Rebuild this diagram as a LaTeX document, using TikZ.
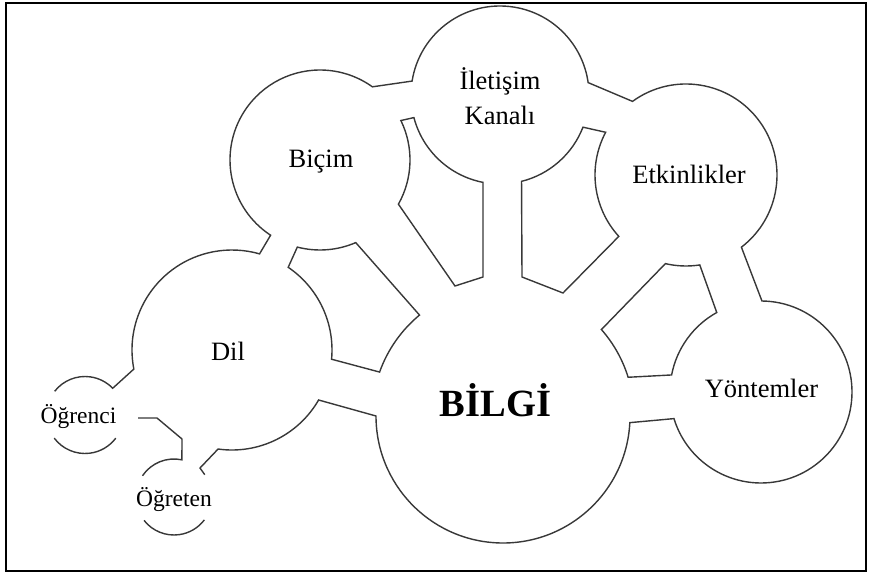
\documentclass[tikz,border=0pt]{standalone}
\usepackage{fontspec}
\setmainfont{Liberation Serif}
\usetikzlibrary{calc}
\begin{document}
\begin{tikzpicture}[x=1pt,y=-1pt,
  outline/.style={draw=black!78, line width=1.4pt, line join=miter},
  txt/.style={font=\fontsize{26.5}{30}\selectfont, anchor=base, inner sep=0pt},
  smalltxt/.style={font=\fontsize{23.5}{27}\selectfont, anchor=base, inner sep=0pt},
  bigtxt/.style={font=\fontsize{38.5}{42}\selectfont\bfseries, anchor=base, inner sep=0pt}]
\useasboundingbox (0,0) rectangle (872,577);
\draw[line width=1.2pt] (6,3) rectangle (866,571);

% circle centres
\coordinate (cB) at (320,160);  % Biçim
\coordinate (cI) at (500,95);   % İletişim Kanalı
\coordinate (cE) at (686,175);  % Etkinlikler
\coordinate (cY) at (761,392);  % Yöntemler
\coordinate (cG) at (503,416);  % BİLGİ
\coordinate (cD) at (232,350);  % Dil
\coordinate (cO) at (85,415);   % Öğrenci
\coordinate (cT) at (174,497);  % Öğreten

% outer contour
\draw[outline]
  ($(cO)+(-142:38.5)$) arc[start angle=-142,end angle=-44,radius=38.5]
  -- ($(cD)+(-191:100)$) arc[start angle=-191,end angle=-74,radius=100]
  -- ($(cB)+(-236.7:90)$) arc[start angle=-236.7,end angle=-54.4,radius=90]
  -- ($(cI)+(-171:89)$) arc[start angle=-171,end angle=-8,radius=89]
  -- ($(cE)+(-126:91)$) arc[start angle=-126,end angle=52.5,radius=91]
  -- ($(cY)+(-89.4:91)$) arc[start angle=-89.4,end angle=163,radius=91]
  -- ($(cG)+(3:127)$) arc[start angle=3,end angle=180,radius=127]
  -- ($(cD)+(30:100)$) arc[start angle=30,end angle=98,radius=100]
  -- (200,468) -- ($(cT)+(-36:38)$);

% lower arc of Öğrenci
\draw[outline] ($(cO)+(143:38.5)$) arc[start angle=143,end angle=37,radius=38.5];
% link between Öğrenci and Öğreten
\draw[outline] (138,418) -- (157,418) -- (182,439)
  -- ($(cT)+(-78:38)$) arc[start angle=-78,end angle=-146,radius=38];
% lower arc of Öğreten
\draw[outline] ($(cT)+(142:38)$) arc[start angle=142,end angle=37,radius=38];

% inner cut-outs
\draw[outline]
  ($(cB)+(104.6:90)$) arc[start angle=104.6,end angle=66.6,radius=90]
  -- ($(cG)+(-129.6:131)$) arc[start angle=-129.6,end angle=-160.4,radius=131]
  -- ($(cD)+(5.3:100)$) arc[start angle=5.3,end angle=-55.8,radius=100]
  -- cycle;
\draw[outline]
  ($(cI)+(165.3:89)$) arc[start angle=165.3,end angle=101,radius=89]
  -- (483,277) -- (455,286)
  -- ($(cB)+(29.4:90)$) arc[start angle=29.4,end angle=-26,radius=90]
  -- cycle;
\draw[outline]
  ($(cI)+(76:89)$) arc[start angle=76,end angle=21.2,radius=89]
  -- ($(cE)+(-152:91)$) arc[start angle=-152,end angle=-222.4,radius=91]
  -- (563,293) -- (522,277) -- cycle;
\draw[outline]
  ($(cE)+(103.1:91)$) arc[start angle=103.1,end angle=81.3,radius=91]
  -- ($(cY)+(-119.1:91)$) arc[start angle=-119.1,end angle=-169.2,radius=91]
  -- ($(cG)+(-17.2:131)$) arc[start angle=-17.2,end angle=-41.3,radius=131]
  -- cycle;

% labels
\node[txt] (tB) at (321,168) {Biçim};
\node[txt] (tI1) at (500,90) {İletişim};
\node[txt] (tI2) at (500,125) {Kanalı};
\node[txt] (tE) at (689,184) {Etkinlikler};
\node[txt] (tY) at (761.5,397) {Yöntemler};
\node[txt] (tD) at (228,360) {Dil};
\node[bigtxt] (tG) at (495.5,416) {BİLGİ};
\node[smalltxt] (tO) at (78.5,423) {Öğrenci};
\node[smalltxt] (tT) at (174,506) {Öğreten};
\end{tikzpicture}
\end{document}
